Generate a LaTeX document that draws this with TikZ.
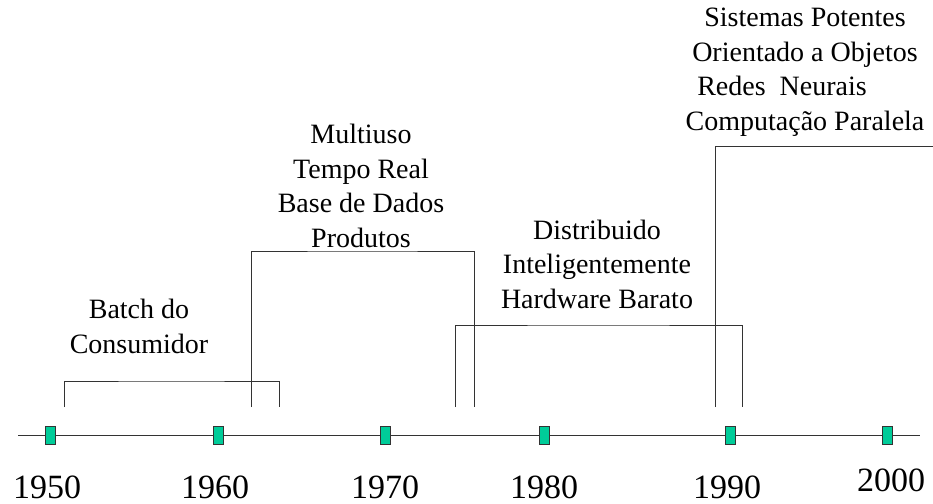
\documentclass[tikz,border=0pt]{standalone}
\usepackage{fontspec}
\setmainfont{Liberation Serif}
\definecolor{mark}{HTML}{00CC99}
\definecolor{ln}{HTML}{333333}
\begin{document}
\begin{tikzpicture}[x=1pt,y=-1pt,
  tick/.style={draw=ln,fill=mark,line width=0.9pt,minimum width=10pt,minimum height=18pt,inner sep=0pt},
  year/.style={font=\fontsize{34}{40}\selectfont,anchor=base,inner sep=0pt},
  lbl/.style={font=\fontsize{28}{34.5}\selectfont,align=center,anchor=base,inner sep=0pt},
  brk/.style={draw=ln,line width=0.9pt}]
\useasboundingbox (0,0) rectangle (933,503);
% axis
\coordinate (a0) at (18,435);
\coordinate (a1) at (920,435);
\draw[brk] (a0) -- (a1);
\node[tick] (m1950) at (50,435) {};
\node[tick] (m1960) at (218,435) {};
\node[tick] (m1970) at (385,435) {};
\node[tick] (m1980) at (544,435) {};
\node[tick] (m1990) at (730,435) {};
\node[tick] (m2000) at (887,435) {};
% years
\node[year] (y1950) at (47,498) {1950};
\node[year] (y1960) at (215,498) {1960};
\node[year] (y1970) at (385,498) {1970};
\node[year] (y1980) at (544,498) {1980};
\node[year] (y1990) at (727,498) {1990};
\node[year] (y2000) at (891,491) {2000};
% brackets
\coordinate (b1a) at (64,407); \coordinate (b1b) at (279,407);
\draw[brk] (b1a) |- (171,381) -| (b1b);
\coordinate (b2a) at (251,407); \coordinate (b2b) at (474,407);
\draw[brk] (b2a) |- (362,251) -| (b2b);
\coordinate (b3a) at (455,407); \coordinate (b3b) at (742,407);
\draw[brk] (b3a) |- (598,325) -| (b3b);
\coordinate (b4a) at (715,407); \coordinate (b4b) at (933,146);
\draw[brk] (b4a) |- (b4b);
% labels (anchor = baseline of last line)
\node[lbl] (t1) at (139,353) {Batch do\\Consumidor};
\node[lbl] (t2) at (361,247) {Multiuso\\Tempo Real\\Base de Dados\\Produtos};
\node[lbl] (t3) at (597,308) {Distribuido\\Inteligentemente\\Hardware Barato};
\node[lbl] (t4) at (805,130) {Sistemas Potentes\\Orientado a Objetos\\Redes\ \ Neurais\rule{46pt}{0pt}\\Computação Paralela};
\end{tikzpicture}
\end{document}
